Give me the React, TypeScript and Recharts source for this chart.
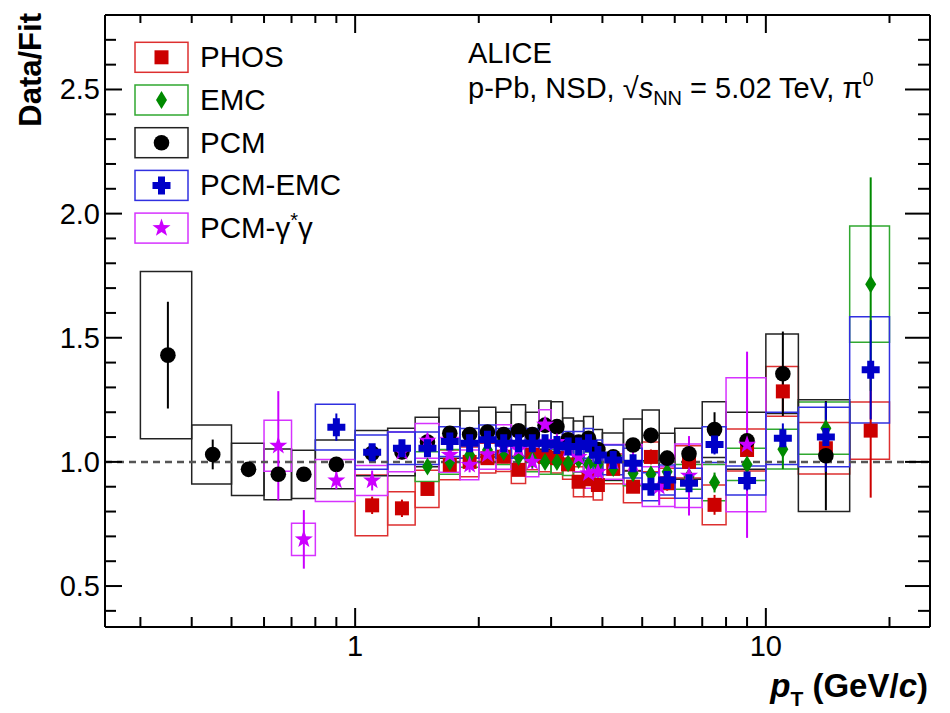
import React from "react";
import {
  ComposedChart,
  Scatter,
  ErrorBar,
  XAxis,
  YAxis,
  ReferenceArea,
  ReferenceLine,
} from "recharts";

// pT bin edges (GeV/c), Data/Fit values, stat. errors and syst. errors per method
const PHOS_EDGES = [1.0, 1.2, 1.4, 1.6, 1.8, 2.0, 2.2, 2.4, 2.6, 2.8, 3.0, 3.2, 3.4, 3.6, 3.8, 4.0, 4.5, 5.0, 5.5, 6.0, 7.0, 8.0, 10, 12, 16, 20];
const PHOS_Y = [0.825, 0.813, 0.891, 0.988, 1.0, 1.015, 1.021, 0.968, 1.028, 1.02, 1.015, 0.99, 0.92, 0.93, 0.907, 0.972, 0.9, 1.02, 0.914, 1.0, 0.827, 1.048, 1.284, 1.055, 1.126];
const PHOS_STAT = [0.035, 0.035, 0.025, 0.02, 0.02, 0.02, 0.02, 0.02, 0.02, 0.02, 0.02, 0.02, 0.025, 0.025, 0.025, 0.025, 0.025, 0.03, 0.03, 0.035, 0.04, 0.05, 0.08, 0.1, 0.27];
const PHOS_SYS = [0.122, 0.067, 0.075, 0.06, 0.06, 0.06, 0.06, 0.055, 0.06, 0.06, 0.06, 0.06, 0.06, 0.07, 0.06, 0.06, 0.065, 0.06, 0.06, 0.065, 0.08, 0.085, 0.1, 0.104, 0.115];

const EMC_EDGES = [1.4, 1.6, 1.8, 2.0, 2.2, 2.4, 2.6, 2.8, 3.0, 3.2, 3.4, 3.6, 3.8, 4.0, 4.5, 5.0, 5.5, 6.0, 7.0, 8.0, 10, 12, 16, 20];
const EMC_Y = [0.981, 1.0, 1.028, 1.048, 1.04, 1.02, 1.01, 1.0, 1.0, 0.995, 1.008, 0.99, 0.99, 0.975, 0.954, 0.95, 0.96, 0.94, 0.917, 0.99, 1.051, 1.136, 1.716];
const EMC_STAT = [0.02, 0.02, 0.02, 0.02, 0.02, 0.02, 0.02, 0.02, 0.02, 0.02, 0.02, 0.02, 0.02, 0.02, 0.02, 0.025, 0.025, 0.03, 0.04, 0.05, 0.08, 0.1, 0.43];
const EMC_SYS = [0.06, 0.05, 0.05, 0.05, 0.05, 0.05, 0.05, 0.05, 0.05, 0.05, 0.05, 0.05, 0.05, 0.05, 0.05, 0.05, 0.05, 0.05, 0.073, 0.065, 0.08, 0.105, 0.234];

const PCM_EDGES = [0.3, 0.4, 0.5, 0.6, 0.7, 0.8, 1.0, 1.2, 1.4, 1.6, 1.8, 2.0, 2.2, 2.4, 2.6, 2.8, 3.0, 3.2, 3.4, 3.6, 3.8, 4.0, 4.5, 5.0, 5.5, 6.0, 7.0, 8.0, 10, 12, 16];
const PCM_Y = [1.43, 1.03, 0.97, 0.95, 0.95, 0.99, 1.035, 1.04, 1.08, 1.115, 1.11, 1.12, 1.11, 1.125, 1.11, 1.148, 1.142, 1.089, 1.08, 1.095, 1.05, 1.021, 1.068, 1.107, 1.015, 1.033, 1.13, 1.085, 1.355, 1.025];
const PCM_STAT = [0.215, 0.06, 0.015, 0.012, 0.012, 0.03, 0.02, 0.02, 0.015, 0.015, 0.015, 0.015, 0.015, 0.015, 0.015, 0.02, 0.02, 0.02, 0.02, 0.02, 0.02, 0.02, 0.025, 0.03, 0.03, 0.035, 0.07, 0.05, 0.17, 0.22];
const PCM_SYS = [0.337, 0.119, 0.105, 0.102, 0.097, 0.098, 0.091, 0.096, 0.1, 0.1, 0.095, 0.1, 0.09, 0.105, 0.09, 0.097, 0.1, 0.088, 0.085, 0.088, 0.08, 0.095, 0.105, 0.102, 0.1, 0.103, 0.112, 0.115, 0.16, 0.225];

const PCMEMC_EDGES = [0.8, 1.0, 1.2, 1.4, 1.6, 1.8, 2.0, 2.2, 2.4, 2.6, 2.8, 3.0, 3.2, 3.4, 3.6, 3.8, 4.0, 4.5, 5.0, 5.5, 6.0, 7.0, 8.0, 10, 12, 16, 20];
const PCMEMC_Y = [1.14, 1.039, 1.055, 1.055, 1.082, 1.075, 1.089, 1.075, 1.075, 1.075, 1.075, 1.068, 1.062, 1.062, 1.075, 1.028, 1.008, 0.995, 0.9, 0.927, 0.914, 1.07, 0.925, 1.095, 1.1, 1.371];
const PCMEMC_STAT = [0.055, 0.025, 0.025, 0.02, 0.02, 0.02, 0.02, 0.02, 0.02, 0.02, 0.02, 0.02, 0.02, 0.02, 0.02, 0.02, 0.02, 0.02, 0.025, 0.025, 0.03, 0.04, 0.04, 0.06, 0.14, 0.2];
const PCMEMC_SYS = [0.092, 0.069, 0.065, 0.065, 0.06, 0.06, 0.06, 0.06, 0.06, 0.06, 0.06, 0.06, 0.06, 0.06, 0.06, 0.06, 0.06, 0.06, 0.056, 0.06, 0.06, 0.072, 0.058, 0.105, 0.12, 0.214];

const DALITZ_EDGES = [0.6, 0.7, 0.8, 1.0, 1.2, 1.4, 1.6, 1.8, 2.0, 2.2, 2.4, 2.6, 2.8, 3.0, 3.2, 3.4, 3.6, 3.8, 4.0, 4.5, 5.0, 6.0, 7.0, 8.0, 10];
const DALITZ_Y = [1.065, 0.688, 0.925, 0.925, 1.04, 1.085, 1.028, 0.988, 1.03, 1.06, 1.05, 1.0, 1.15, 1.08, 1.05, 1.02, 0.954, 0.96, 1.0, 0.99, 0.9, 0.944, null, 1.069];
const DALITZ_STAT = [0.22, 0.118, 0.035, 0.04, 0.03, 0.03, 0.03, 0.03, 0.03, 0.03, 0.03, 0.03, 0.03, 0.03, 0.03, 0.03, 0.04, 0.04, 0.04, 0.05, 0.075, 0.16, null, 0.375];
const DALITZ_SYS = [0.103, 0.065, 0.085, 0.06, 0.08, 0.07, 0.07, 0.06, 0.06, 0.09, 0.06, 0.06, 0.06, 0.06, 0.06, 0.06, 0.06, 0.06, 0.07, 0.08, 0.08, 0.128, null, 0.27];

const X_TICKS = [0.3, 0.4, 0.5, 0.6, 0.7, 0.8, 0.9, 1, 2, 3, 4, 5, 6, 7, 8, 9, 10, 20];
const X_LABELS = [1, 10];
const Y_TICKS = [0.4, 0.5, 0.6, 0.7, 0.8, 0.9, 1.0, 1.1, 1.2, 1.3, 1.4, 1.5, 1.6, 1.7, 1.8, 1.9, 2.0, 2.1, 2.2, 2.3, 2.4, 2.5, 2.6, 2.7];
const Y_LABELS = [0.5, 1.0, 1.5, 2.0, 2.5];

const FONT = "'Liberation Sans', Arial, Helvetica, sans-serif";
const W = 950;
const H = 713;
const PLOT = { left: 105, right: 930, top: 15, bottom: 627 };

type Kind = "square" | "diamond" | "circle" | "cross" | "star";

interface Series {
  name: string;
  kind: Kind;
  color: string;
  boxColor: string;
  edges: number[];
  y: (number | null)[];
  stat: (number | null)[];
  sys: (number | null)[];
}

const SERIES: Series[] = [
  { name: "PHOS", kind: "square", color: "#cc0000", boxColor: "#dd3030", edges: PHOS_EDGES, y: PHOS_Y, stat: PHOS_STAT, sys: PHOS_SYS },
  { name: "EMC", kind: "diamond", color: "#008a00", boxColor: "#30a830", edges: EMC_EDGES, y: EMC_Y, stat: EMC_STAT, sys: EMC_SYS },
  { name: "PCM", kind: "circle", color: "#000000", boxColor: "#222222", edges: PCM_EDGES, y: PCM_Y, stat: PCM_STAT, sys: PCM_SYS },
  { name: "PCM-γ*γ", kind: "star", color: "#cc00ff", boxColor: "#d633ff", edges: DALITZ_EDGES, y: DALITZ_Y, stat: DALITZ_STAT, sys: DALITZ_SYS },
  { name: "PCM-EMC", kind: "cross", color: "#0000c8", boxColor: "#3030e0", edges: PCMEMC_EDGES, y: PCMEMC_Y, stat: PCMEMC_STAT, sys: PCMEMC_SYS },
];

const LEGEND_ORDER = ["PHOS", "EMC", "PCM", "PCM-EMC", "PCM-γ*γ"];

function points(s: Series) {
  const out: { x: number; y: number; err: number }[] = [];
  s.y.forEach((v, i) => {
    if (v == null) return;
    out.push({ x: (s.edges[i] + s.edges[i + 1]) / 2, y: v, err: s.stat[i] ?? 0 });
  });
  return out;
}

function Marker({ kind, cx, cy, color }: { kind: Kind; cx: number; cy: number; color: string }) {
  if (cx == null || cy == null) return null;
  switch (kind) {
    case "square":
      return <rect x={cx - 7} y={cy - 7} width={14} height={14} fill={color} />;
    case "diamond":
      return <path d={`M${cx},${cy - 9}L${cx + 5.5},${cy}L${cx},${cy + 9}L${cx - 5.5},${cy}Z`} fill={color} />;
    case "circle":
      return <circle cx={cx} cy={cy} r={7.8} fill={color} />;
    case "cross": {
      const a = 9;
      const b = 3.5;
      const d = `M${cx - b},${cy - a}H${cx + b}V${cy - b}H${cx + a}V${cy + b}H${cx + b}V${cy + a}H${cx - b}V${cy + b}H${cx - a}V${cy - b}H${cx - b}Z`;
      return <path d={d} fill={color} />;
    }
    case "star": {
      const pts: string[] = [];
      for (let k = 0; k < 10; k++) {
        const r = k % 2 === 0 ? 9.5 : 3.8;
        const ang = -Math.PI / 2 + (k * Math.PI) / 5;
        pts.push(`${cx + r * Math.cos(ang)},${cy + r * Math.sin(ang)}`);
      }
      return <polygon points={pts.join(" ")} fill={color} />;
    }
  }
  return null;
}

function BottomTick(props: any) {
  const { x, payload } = props;
  const v = payload.value;
  const major = X_LABELS.includes(v);
  return (
    <g>
      <line x1={x} x2={x} y1={PLOT.bottom} y2={PLOT.bottom - (major ? 19 : 10)} stroke="#000" strokeWidth={2} />
      {major && (
        <text x={x} y={PLOT.bottom + 29} textAnchor="middle" fontSize={29} fontFamily={FONT} fill="#000">
          {v}
        </text>
      )}
    </g>
  );
}

function TopTick(props: any) {
  const { x, payload } = props;
  const major = X_LABELS.includes(payload.value);
  return <line x1={x} x2={x} y1={PLOT.top} y2={PLOT.top + (major ? 18 : 8)} stroke="#000" strokeWidth={2} />;
}

function isYLabel(v: number) {
  return Y_LABELS.some((l) => Math.abs(l - v) < 1e-6);
}

function LeftTick(props: any) {
  const { y, payload } = props;
  const v = payload.value;
  const major = isYLabel(v);
  return (
    <g>
      <line x1={PLOT.left} x2={PLOT.left + (major ? 17 : 11)} y1={y} y2={y} stroke="#000" strokeWidth={2} />
      {major && (
        <text x={100} y={y + 10} textAnchor="end" fontSize={29} fontFamily={FONT} fill="#000">
          {v.toFixed(1)}
        </text>
      )}
    </g>
  );
}

function RightTick(props: any) {
  const { y, payload } = props;
  const major = isYLabel(payload.value);
  return <line x1={PLOT.right} x2={PLOT.right - (major ? 25 : 12)} y1={y} y2={y} stroke="#000" strokeWidth={2} />;
}

function Overlay() {
  const rowY0 = 57.3;
  const rowStep = 42.7;
  return (
    <svg width={W} height={H} style={{ position: "absolute", left: 0, top: 0, pointerEvents: "none" }} fontFamily={FONT}>
      {LEGEND_ORDER.map((name, i) => {
        const s = SERIES.find((q) => q.name === name)!;
        const cy = rowY0 + i * rowStep;
        return (
          <g key={name}>
            <rect x={135} y={cy - 15} width={53} height={30} fill="none" stroke={s.boxColor} strokeWidth={1.5} />
            <Marker kind={s.kind} cx={161.5} cy={cy} color={s.color} />
            <text x={200} y={cy + 10} fontSize={29.5} fill="#000">
              {name === "PCM-γ*γ" ? (
                <>
                  PCM-γ<tspan fontSize={20} dy={-11}>*</tspan>
                  <tspan dy={11}>γ</tspan>
                </>
              ) : (
                name
              )}
            </text>
          </g>
        );
      })}
      <text x={468} y={63} fontSize={29} fill="#000">ALICE</text>
      <text x={468} y={98} fontSize={29} fill="#000">
        p-Pb, NSD, √<tspan fontStyle="italic">s</tspan>
        <tspan fontSize={20} dy={7}>NN</tspan>
        <tspan dy={-7}> = 5.02 TeV, π</tspan>
        <tspan fontSize={20} dy={-12}>0</tspan>
      </text>
      <text transform="translate(41,13) rotate(-90)" textAnchor="end" fontSize={31} fontWeight="bold" fill="#000">
        Data/Fit
      </text>
      <text x={928} y={697} textAnchor="end" fontSize={33} fontWeight="bold" fill="#000">
        <tspan fontStyle="italic">p</tspan>
        <tspan fontSize={21} dy={9}>T</tspan>
        <tspan dy={-9}> (GeV/</tspan>
        <tspan fontStyle="italic">c</tspan>
        <tspan>)</tspan>
      </text>
    </svg>
  );
}

export default function App() {
  const xDomain: [number, number] = [0.246, 25.1];
  const yDomain: [number, number] = [0.335, 2.8];
  return (
    <div style={{ position: "absolute", left: 0, top: 0, width: W, height: H, background: "#fff" }}>
      <ComposedChart width={W} height={H} margin={{ top: 0, right: 0, bottom: 0, left: 0 }}>
        <XAxis
          xAxisId={0}
          dataKey="x"
          type="number"
          scale="log"
          domain={xDomain}
          allowDataOverflow
          ticks={X_TICKS}
          interval={0}
          height={86}
          tickLine={false}
          tick={<BottomTick />}
          axisLine={{ stroke: "#000", strokeWidth: 2 }}
        />
        <XAxis
          xAxisId="top"
          orientation="top"
          dataKey="x"
          type="number"
          scale="log"
          domain={xDomain}
          allowDataOverflow
          ticks={X_TICKS}
          interval={0}
          height={15}
          tickLine={false}
          tick={<TopTick />}
          axisLine={{ stroke: "#000", strokeWidth: 2 }}
        />
        <YAxis
          yAxisId={0}
          dataKey="y"
          type="number"
          domain={yDomain}
          allowDataOverflow
          ticks={Y_TICKS}
          interval={0}
          width={105}
          tickLine={false}
          tick={<LeftTick />}
          axisLine={{ stroke: "#000", strokeWidth: 2 }}
        />
        <YAxis
          yAxisId="right"
          orientation="right"
          type="number"
          domain={yDomain}
          allowDataOverflow
          ticks={Y_TICKS}
          interval={0}
          width={20}
          tickLine={false}
          tick={<RightTick />}
          axisLine={{ stroke: "#000", strokeWidth: 2 }}
        />

        {SERIES.map((s) =>
          s.y.map((v, i) =>
            v == null ? null : (
              <ReferenceArea
                key={`${s.name}-box-${i}`}
                x1={s.edges[i]}
                x2={s.edges[i + 1]}
                y1={v - (s.sys[i] ?? 0)}
                y2={v + (s.sys[i] ?? 0)}
                fill="none"
                fillOpacity={0}
                stroke={s.boxColor}
                strokeWidth={1.5}
                ifOverflow="visible"
              />
            )
          )
        )}

        <ReferenceLine y={1} stroke="#555" strokeWidth={2.5} strokeDasharray="7 5" />

        {SERIES.map((s) => (
          <Scatter
            key={s.name}
            name={s.name}
            data={points(s)}
            isAnimationActive={false}
            shape={(p: any) => <Marker kind={s.kind} cx={p.cx} cy={p.cy} color={s.color} />}
          >
            <ErrorBar dataKey="err" direction="y" width={0} stroke={s.color} strokeWidth={2} />
          </Scatter>
        ))}
      </ComposedChart>
      <Overlay />
    </div>
  );
}
